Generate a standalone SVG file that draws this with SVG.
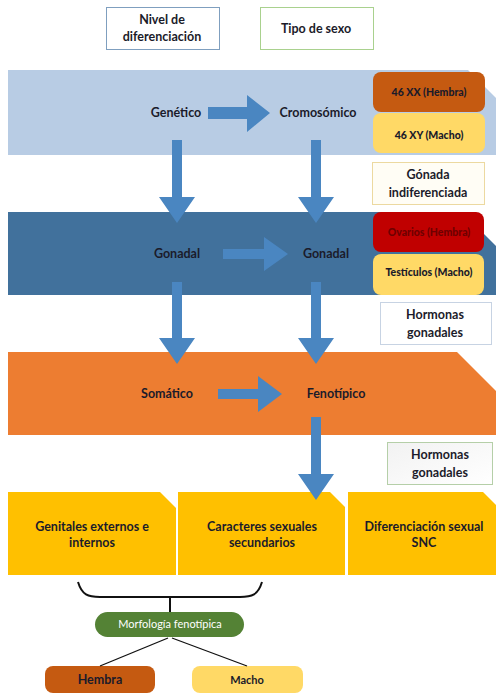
<svg xmlns="http://www.w3.org/2000/svg" width="496" height="694" viewBox="0 0 496 694">
<style>
text{font-family:Lato,"Open Sans","Liberation Sans",sans-serif;font-weight:bold;fill:#1b1b2a;text-anchor:middle}
.t{font-size:12.5px}
.s{font-size:10.5px;font-weight:900}
.arr{fill:#4a86c1}
.hdr{fill:#ffffff;stroke-width:1}
</style>
<defs>
<linearGradient id="g1" x1="0" y1="0" x2="1" y2="1"><stop offset="0" stop-color="#f2f2f2"/><stop offset="1" stop-color="#ffffff"/></linearGradient>
</defs>
<rect width="496" height="694" fill="#ffffff"/>
<g id="hdr-nivel"><rect x="106.5" y="7.5" width="113" height="42" class="hdr" stroke="#7f9fbf"/><text class="t" x="162" y="24">Nivel de</text><text class="t" x="162" y="41">diferenciación</text></g>
<g id="hdr-tipo"><rect x="260.5" y="7.5" width="113" height="42" class="hdr" stroke="#a9d18e"/><text class="t" x="316" y="33">Tipo de sexo</text></g>

<g id="band-genetico"><path d="M8,70 H468 L496,98 V155 H8 Z" fill="#b8cce4"/><text class="t" x="176" y="117">Genético</text><text class="t" x="318" y="117">Cromosómico</text></g>
<g id="band-gonadal"><path d="M8,212 H462 L496,246 V295 H8 Z" fill="#41719c"/><text class="t" x="177" y="258">Gonadal</text><text class="t" x="326" y="258">Gonadal</text></g>
<g id="band-somatico"><path d="M8,352 H457 L496,391 V435 H8 Z" fill="#ed7d31"/><text class="t" x="167" y="398">Somático</text><text class="t" x="336" y="398">Fenotípico</text></g>

<g id="xx"><rect x="373" y="72" width="112" height="40" rx="8" fill="#c55a11"/><text class="s" x="429" y="96">46 XX (Hembra)</text></g>
<g id="xy"><rect x="373" y="113" width="112" height="40" rx="8" fill="#ffd966"/><text class="s" x="429" y="139">46 XY (Macho)</text></g>
<g id="gonada"><rect x="372.5" y="162.5" width="112" height="42" fill="#fffdf5" stroke="#ecd9a0"/><text class="t" x="428" y="179">Gónada</text><text class="t" x="428" y="197">indiferenciada</text></g>
<g id="ovarios"><rect x="373" y="212" width="111" height="40" rx="8" fill="#c00000"/><text class="s" x="429" y="236" style="fill:#6e0000">Ovarios (Hembra)</text></g>
<g id="testiculos"><rect x="373" y="254" width="111" height="41" rx="8" fill="#ffd966"/><text class="s" x="429" y="276">Testículos (Macho)</text></g>
<g id="hormonas1"><rect x="380.5" y="302.5" width="111" height="42" fill="#ffffff" stroke="#c7d3e3"/><text class="t" x="435" y="319">Hormonas</text><text class="t" x="435" y="337">gonadales</text></g>
<g id="hormonas2"><rect x="387.5" y="442.5" width="105" height="42" fill="url(#g1)" stroke="#b5cfa8"/><text class="t" x="440" y="459">Hormonas</text><text class="t" x="440" y="477">gonadales</text></g>

<g id="genitales"><path d="M8,492 H160 L176,508 V575 H8 Z" fill="#ffc000"/><text class="t" x="92" y="531">Genitales externos e</text><text class="t" x="92" y="547">internos</text></g>
<g id="caracteres"><path d="M178,492 H330 L345,507 V575 H178 Z" fill="#ffc000"/><text class="t" x="262" y="531">Caracteres sexuales</text><text class="t" x="262" y="547">secundarios</text></g>
<g id="snc"><path d="M348,492 H483 L496,505 V575 H348 Z" fill="#ffc000"/><text class="t" x="424" y="531">Diferenciación sexual</text><text class="t" x="424" y="547">SNC</text></g>

<g id="morfologia"><rect x="95" y="612" width="149" height="25" rx="12.5" fill="#548235"/><text x="170" y="628" style="font-size:11px;font-weight:normal;fill:#ffffff">Morfología fenotípica</text></g>
<g id="hembra"><rect x="45" y="666" width="110" height="27" rx="8" fill="#c55a11"/><text class="t" x="100" y="684">Hembra</text></g>
<g id="macho"><rect x="192" y="666" width="111" height="27" rx="8" fill="#ffd966"/><text class="t" x="247" y="684" style="font-size:11px">Macho</text></g>

<g id="connectors">
<polygon class="arr" points="208,107 247,107 247,95 270,113 247,132 247,119 208,119"/>
<polygon class="arr" points="223,249 264,249 264,237 288,254 264,271 264,259 223,259"/>
<polygon class="arr" points="218,389 258,389 258,376 282,394 258,412 258,399 218,399"/>
<polygon class="arr" points="172,140 182,140 182,197 195,197 177,223 159,197 172,197"/>
<polygon class="arr" points="311,140 321,140 321,197 334,197 316,223 298,197 311,197"/>
<polygon class="arr" points="172,282 182,282 182,338 195,338 177,364 159,338 172,338"/>
<polygon class="arr" points="311,282 321,282 321,338 334,338 316,364 298,338 311,338"/>
<polygon class="arr" points="311,417 321,417 321,474 334,474 316,500 298,474 311,474"/>
<path d="M78,582 C82,595 88,597 100,597 H240 C252,597 258,595 262,582" fill="none" stroke="#111" stroke-width="2"/>
<line x1="170" y1="597" x2="170" y2="612" stroke="#111" stroke-width="2"/>
<line x1="168" y1="638" x2="100" y2="666" stroke="#111" stroke-width="1.3"/>
<line x1="172" y1="638" x2="247" y2="666" stroke="#111" stroke-width="1.3"/>
</g>
</svg>
